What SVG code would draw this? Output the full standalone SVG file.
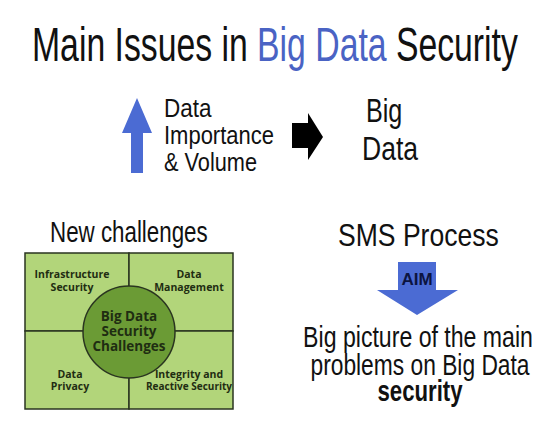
<svg xmlns="http://www.w3.org/2000/svg" width="550" height="438" viewBox="0 0 550 438">
<style>
.t{font-family:"Liberation Sans",Arial,sans-serif;fill:#111}
.g{font-family:"Open Sans","DejaVu Sans",sans-serif;font-weight:bold;fill:#1f2d12;text-anchor:middle}
.cell{fill:#b2d57a;stroke:#2a3520;stroke-width:1.5}
.blue{fill:#4b6bd3}
.hl{fill:#4a63c4}
</style>
<rect width="550" height="438" fill="#fff"/>
<g id="title">
<text class="t" transform="translate(32,61) scale(0.689,1)" x="0" y="0" font-size="49">Main Issues in <tspan class="hl">Big Data</tspan> Security</text>
</g>
<g id="up-arrow">
<polygon class="blue" points="137,98 152,133 143,133 143,173 131,173 131,133 122,133"/>
</g>
<g id="data-importance">
<text class="t" transform="translate(164,117) scale(0.9,1)" font-size="25">Data</text>
<text class="t" transform="translate(164,144) scale(0.88,1)" font-size="25">Importance</text>
<text class="t" transform="translate(164,171) scale(0.87,1)" font-size="25">&amp; Volume</text>
</g>
<g id="right-arrow">
<polygon fill="#000" points="292,123 308,123 308,113 323,137 308,160 308,148 292,148"/>
</g>
<g id="big-data">
<text class="t" transform="translate(366,122) scale(0.74,1)" font-size="34">Big</text>
<text class="t" transform="translate(362,160) scale(0.78,1)" font-size="34">Data</text>
</g>
<g id="new-challenges">
<text class="t" transform="translate(50,242) scale(0.745,1)" font-size="30">New challenges</text>
</g>
<g id="challenges-grid">
<rect class="cell" x="25" y="253" width="104" height="78"/>
<rect class="cell" x="129" y="253" width="104" height="78"/>
<rect class="cell" x="25" y="331" width="104" height="78"/>
<rect class="cell" x="129" y="331" width="104" height="78"/>
<circle cx="129" cy="332" r="46" fill="#6b9b35" stroke="#2a3520" stroke-width="1.5"/>
<text class="g" x="72" y="278" font-size="10.5">Infrastructure</text>
<text class="g" x="72" y="291" font-size="10.5">Security</text>
<text class="g" x="189" y="278" font-size="10.5">Data</text>
<text class="g" x="189" y="291" font-size="10.5">Management</text>
<text class="g" x="70" y="378" font-size="10.5">Data</text>
<text class="g" x="70" y="390" font-size="10.5">Privacy</text>
<text class="g" x="189" y="378" font-size="10.5">Integrity and</text>
<text class="g" x="189" y="390" font-size="10">Reactive Security</text>
<text class="g" x="129" y="321" font-size="13.5">Big Data</text>
<text class="g" x="129" y="336" font-size="13.5">Security</text>
<text class="g" x="129" y="351" font-size="13.5">Challenges</text>
</g>
<g id="sms-process">
<text class="t" transform="translate(338,246) scale(0.83,1)" font-size="32">SMS Process</text>
</g>
<g id="aim-arrow">
<polygon class="blue" points="398,262 436,262 436,290 458,290 417,315 377,290 398,290"/>
<text x="417" y="285" font-family="Liberation Sans,Arial,sans-serif" font-weight="bold" font-size="17" fill="#0c1440" text-anchor="middle">AIM</text>
</g>
<g id="aim-text">
<text class="t" transform="translate(418,347) scale(0.77,1)" font-size="30" text-anchor="middle">Big picture of the main</text>
<text class="t" transform="translate(420,375) scale(0.76,1)" font-size="30" text-anchor="middle">problems on Big Data</text>
<text class="t" transform="translate(420,401) scale(0.74,1)" font-size="30" font-weight="bold" text-anchor="middle">security</text>
</g>
</svg>
